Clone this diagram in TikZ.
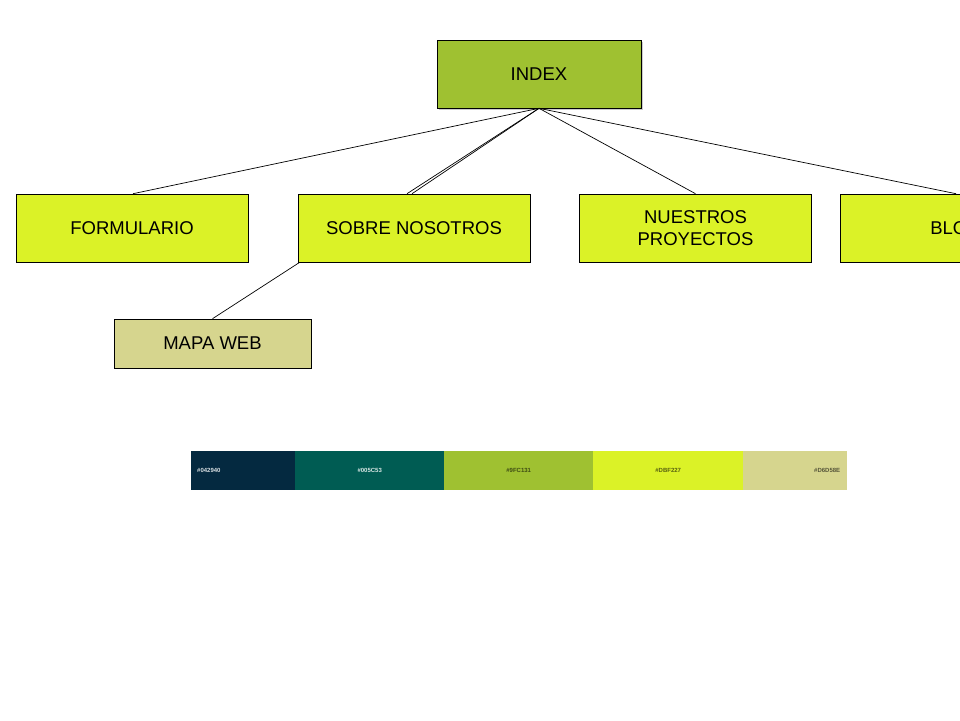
\documentclass[tikz,border=0pt]{standalone}
\usepackage{fontspec}
\setmainfont{Liberation Sans}
\usetikzlibrary{shadows}
\definecolor{cA}{HTML}{042940}
\definecolor{cB}{HTML}{005C53}
\definecolor{cC}{HTML}{9FC131}
\definecolor{cD}{HTML}{DBF227}
\definecolor{cE}{HTML}{D6D58E}
\tikzset{
  box/.style={draw=black, line width=0.6pt, fill=cD, minimum height=68pt, minimum width=232pt, inner sep=0pt, align=center, font=\fontsize{18.5}{22.5}\selectfont},
  link/.style={draw=black, line width=0.7pt},
  sw/.style={draw=none, minimum height=39pt, inner sep=0pt, font=\fontsize{6}{7}\selectfont\bfseries},
}
\begin{document}
\begin{tikzpicture}[x=1pt,y=-1pt]
\useasboundingbox (0,0) rectangle (960,720);
\clip (0,0) rectangle (960,720);
\fill[white] (0,0) rectangle (960,720);
\node[box, fill=cC, minimum width=204pt, drop shadow={shadow xshift=1.5pt, shadow yshift=-1.5pt, opacity=0.4}] (index) at (539,74) {INDEX};
\node[box] (form) at (132,228) {FORMULARIO};
\node[box] (sobre) at (414,228) {SOBRE NOSOTROS};
\node[box] (proy) at (695.5,228) {NUESTROS\\PROYECTOS};
\node[box] (blog) at (956,228) {BLOG};
\node[box, fill=cE, minimum width=197pt, minimum height=49pt] (mapa) at (212.5,343.5) {MAPA WEB};
\draw[link] (index.south) -- ([xshift=1pt]form.north);
\draw[link] (index.south) -- ([xshift=-7pt]sobre.north);
\draw[link] (index.south) -- ([xshift=-2pt]sobre.north);
\draw[link] (index.south) -- (proy.north);
\draw[link] (index.south) -- (blog.north);
\draw[link] ([xshift=2pt]sobre.south west) -- (mapa.north);
% palette
\node[sw, fill=cA, minimum width=104pt, text=white!85!cA, anchor=west, text width=92pt, align=left] (p1) at (191,470.5) {\#042940};
\node[sw, fill=cB, minimum width=149pt, text=white!85!cB, anchor=west, align=center] (p2) at (295,470.5) {\#005C53};
\node[sw, fill=cC, minimum width=149pt, text=black!60!cC, anchor=west, align=center] (p3) at (444,470.5) {\#9FC131};
\node[sw, fill=cD, minimum width=150pt, text=black!60!cD, anchor=west, align=center] (p4) at (593,470.5) {\#DBF227};
\node[sw, fill=cE, minimum width=104pt, text=black!60!cE, anchor=west, text width=90pt, align=right] (p5) at (743,470.5) {\#D6D58E};
\end{tikzpicture}
\end{document}
